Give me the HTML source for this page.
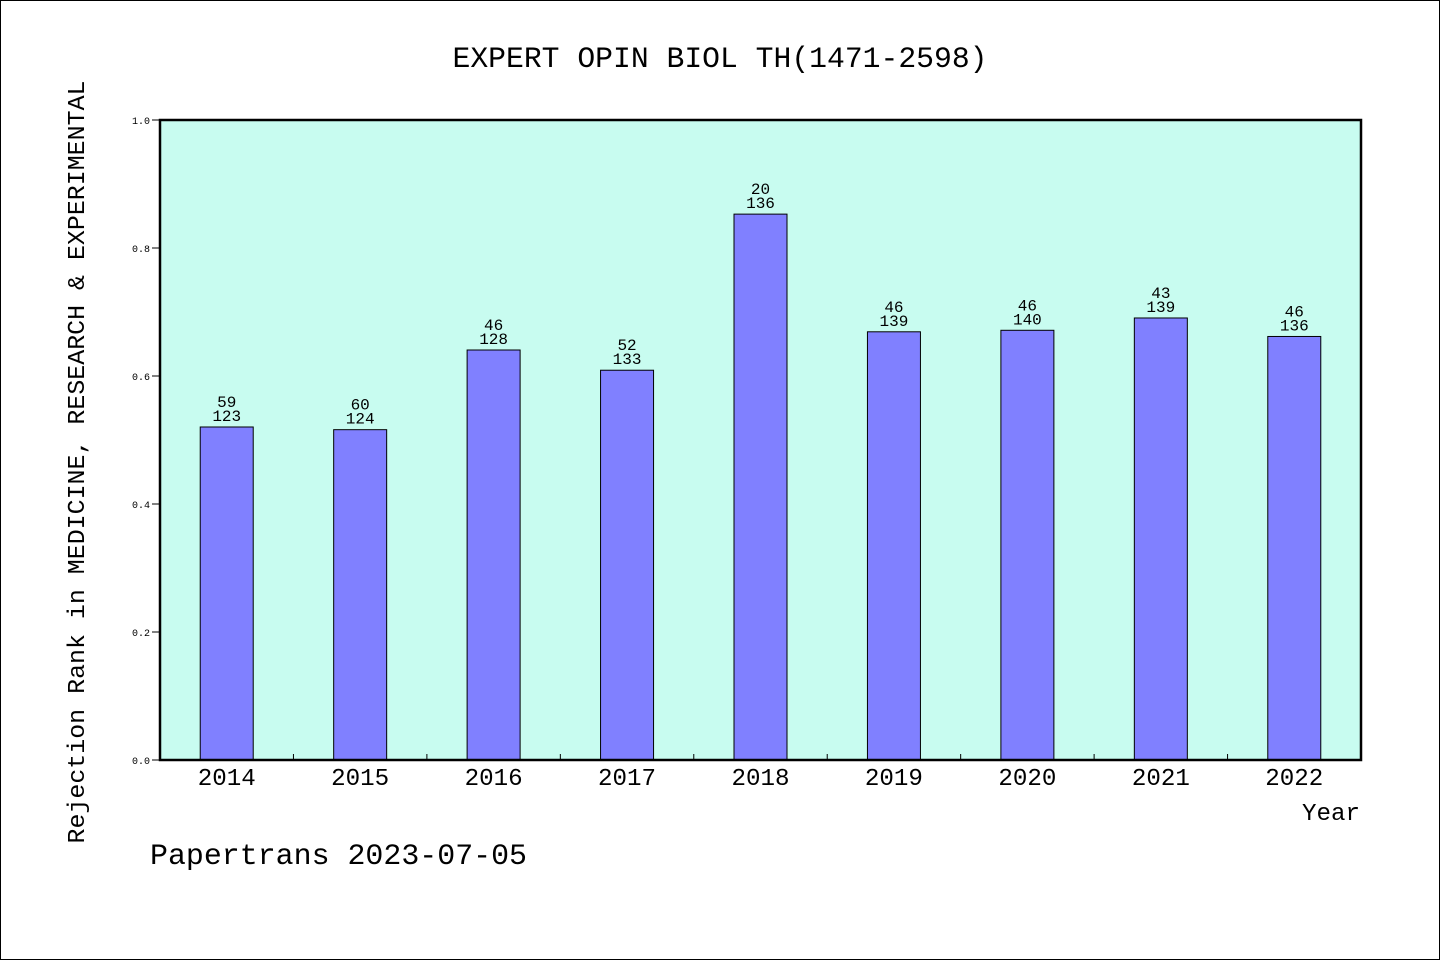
<!DOCTYPE html>
<html><head><meta charset="utf-8"><style>
html,body{margin:0;padding:0;background:#fff}
svg{display:block;font-family:"Liberation Mono","DejaVu Sans Mono",monospace}
</style></head><body>
<svg id="chart" width="1440" height="960" viewBox="0 0 1440 960">
<rect x="0.5" y="0.5" width="1439" height="959" fill="#fff" stroke="#000"/>
<text x="720" y="67" font-size="30" text-anchor="middle" textLength="535" lengthAdjust="spacingAndGlyphs">EXPERT OPIN BIOL TH(1471-2598)</text>
<rect x="160" y="120" width="1201" height="640" fill="#c8fcf0"/>
<g id="bars"></g>
<g id="yticks"></g>
<g id="xticks"></g>
<rect x="160" y="120" width="1201" height="640" fill="none" stroke="#000" stroke-width="2.5"/>
<text transform="translate(84,462) rotate(-90)" font-size="24" text-anchor="middle" textLength="763" lengthAdjust="spacingAndGlyphs">Rejection Rank in MEDICINE, RESEARCH &amp; EXPERIMENTAL</text>
<text x="1360" y="820" font-size="24" text-anchor="end" textLength="58" lengthAdjust="spacingAndGlyphs">Year</text>
<text x="150" y="864" font-size="30" textLength="377" lengthAdjust="spacingAndGlyphs">Papertrans 2023-07-05</text>
</svg>
<script>
const years = ["2014","2015","2016","2017","2018","2019","2020","2021","2022"];
const ranks = [59,60,46,52,20,46,46,43,46];
const totals = [123,124,128,133,136,139,140,139,136];
const yTickLabels = ["0.0","0.2","0.4","0.6","0.8","1.0"];
const yTickValues = [0,0.2,0.4,0.6,0.8,1.0];

const NS="http://www.w3.org/2000/svg";
const X0=160,X1=1361,Y0=760,Y1=120;
const slot=(X1-X0)/years.length;
const xC=i=>X0+slot*(i+0.5);
const yS=v=>Y0-(v-0)/(1-0)*(Y0-Y1);
function mk(tag,attrs,parent,txt){const e=document.createElementNS(NS,tag);for(const k in attrs)e.setAttribute(k,attrs[k]);if(txt!==undefined)e.textContent=txt;parent.appendChild(e);return e;}
const gb=document.getElementById('bars'),gy=document.getElementById('yticks'),gx=document.getElementById('xticks');
const bw=53;
years.forEach((yr,i)=>{
  const v=1-ranks[i]/totals[i];
  const top=yS(v);
  const r=mk('rect',{x:xC(i)-bw/2,y:top,width:bw,height:Y0-top,fill:'#8080ff',stroke:'#000','stroke-width':1},gb);
  
  
  const t1=mk('text',{x:xC(i),y:top-20,'font-size':16,'text-anchor':'middle'},gb,String(ranks[i]));
  
  
  const t2=mk('text',{x:xC(i),y:top-6,'font-size':16,'text-anchor':'middle'},gb,String(totals[i]));
  
  
  const xl=mk('text',{x:xC(i),y:785,'font-size':24,'text-anchor':'middle',textLength:58,lengthAdjust:'spacingAndGlyphs'},gx,yr);
  
  
  if(i>0){
    const tk=mk('line',{x1:X0+slot*i,x2:X0+slot*i,y1:Y0,y2:Y0-6,stroke:'#000'},gx);
    
    
  }
});
yTickValues.forEach((v,i)=>{
  const y=yS(v);
  const tk=mk('line',{x1:X0-8,x2:X0,y1:y,y2:y,stroke:'#000'},gy);
  
  
  const tl=mk('text',{x:X0-10,y:y+4,'font-size':10,'text-anchor':'end'},gy,yTickLabels[i]);
  
  
});
</script>
</body></html>
